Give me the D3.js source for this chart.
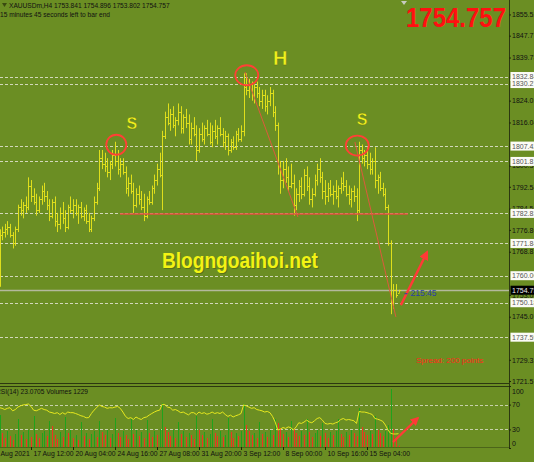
<!DOCTYPE html>
<html><head><meta charset="utf-8">
<script src="https://cdn.jsdelivr.net/npm/d3@7"></script>
<style>html,body{margin:0;padding:0;background:#6b8e23;overflow:hidden}svg{display:block}</style>
</head><body>
<svg id="c" width="534" height="462"></svg>
<script>
// ---------- DATA (XAUUSDm, H4) ----------
const opens = [1762,1775,1776,1777,1778,1775,1772,1777,1785,1784, 1786,1785,1793,1789,1787,1784,1788,1791,1789,1786,
 1782,1787,1780,1779,1783,1781,1778,1785,1784,1786, 1783,1785,1782,1784,1780,1777,1781,1787,1792,1803,
 1801,1800,1798,1801,1804,1802,1799,1801,1798,1792, 1794,1791,1786,1790,1788,1785,1782,1788,1787,1792,
 1795,1799,1797,1811,1818,1816,1819,1815,1817,1820, 1814,1818,1816,1810,1814,1812,1806,1812,1810,1814,
 1812,1809,1813,1811,1814,1812,1809,1811,1806,1809, 1807,1812,1810,1813,1829,1828,1830,1826,1829,1827,
 1824,1826,1822,1824,1827,1820,1815,1800,1795,1799, 1796,1793,1794,1786,1790,1793,1790,1797,1793,1788,
 1790,1795,1799,1796,1791,1789,1792,1790,1791,1789, 1792,1794,1793,1790,1788,1791,1789,1784,1806,1803,
 1804,1801,1799,1802,1795,1796,1792,1790,1785,1772, 1750,1755,1753.841];
const highs = [1777,1778,1779,1780,1779,1776,1778,1786,1788,1787, 1789,1796,1795,1792,1790,1789,1793,1794,1791,1788,
 1788,1789,1783,1785,1787,1784,1786,1789,1788,1788, 1786,1787,1785,1786,1783,1782,1789,1794,1806,1806,
 1805,1803,1802,1806,1809,1806,1803,1803,1800,1796, 1797,1794,1792,1793,1791,1790,1789,1791,1793,1797,
 1801,1805,1813,1820,1823,1821,1822,1818,1823,1822, 1819,1821,1819,1816,1818,1815,1814,1816,1815,1817,
 1816,1815,1817,1815,1818,1814,1813,1812,1810,1811, 1813,1814,1815,1834,1834,1832,1831,1830,1831,1829,
 1828,1828,1826,1829,1828,1822,1816,1802,1802,1803, 1800,1801,1797,1792,1795,1796,1799,1800,1796,1792,
 1797,1801,1803,1798,1795,1794,1795,1793,1795,1793, 1796,1798,1795,1793,1792,1793,1792,1809,1808,1806,
 1807,1805,1803,1807,1797,1798,1794,1792,1786,1773, 1757,1757,1754.896];
const lows = [1756,1773,1774,1775,1774,1770,1771,1776,1782,1781, 1783,1784,1787,1786,1782,1783,1786,1787,1784,1780,
 1781,1778,1776,1777,1779,1776,1777,1783,1781,1782, 1779,1781,1780,1779,1776,1776,1780,1786,1791,1799,
 1798,1796,1795,1799,1800,1797,1796,1797,1790,1789, 1790,1783,1785,1786,1784,1780,1781,1786,1786,1790,
 1793,1796,1784,1810,1815,1813,1814,1811,1815,1812, 1812,1814,1808,1808,1811,1802,1805,1809,1808,1811,
 1808,1807,1810,1808,1811,1807,1806,1804,1805,1806, 1806,1809,1809,1811,1826,1825,1824,1823,1825,1822,
 1821,1820,1819,1822,1818,1813,1797,1790,1792,1794, 1791,1792,1782,1784,1787,1788,1789,1791,1786,1785,
 1789,1793,1794,1788,1786,1787,1789,1786,1788,1785, 1790,1791,1789,1786,1785,1787,1780,1783,1801,1800,
 1799,1797,1797,1792,1790,1791,1789,1784,1771,1746, 1748,1752,1753.802];
const closes = [1775,1776,1777,1778,1775,1772,1777,1785,1784,1786, 1785,1793,1789,1787,1784,1788,1791,1789,1786,1782,
 1787,1780,1779,1783,1781,1778,1785,1784,1786,1783, 1785,1782,1784,1780,1777,1781,1787,1792,1803,1801,
 1800,1798,1801,1804,1802,1799,1801,1798,1792,1794, 1791,1786,1790,1788,1785,1782,1788,1787,1792,1795,
 1799,1797,1811,1818,1816,1819,1815,1817,1820,1814, 1818,1816,1810,1814,1812,1806,1812,1810,1814,1812,
 1809,1813,1811,1814,1812,1809,1811,1806,1809,1807, 1812,1810,1813,1829,1828,1830,1826,1829,1827,1824,
 1826,1822,1824,1827,1820,1815,1800,1795,1799,1796, 1793,1794,1786,1790,1793,1790,1797,1793,1788,1790,
 1795,1799,1796,1791,1789,1792,1790,1791,1789,1792, 1794,1793,1790,1788,1791,1789,1784,1806,1803,1804,
 1801,1799,1802,1795,1796,1792,1790,1785,1772,1750, 1755,1753,1754.757];
// tick volume, thousands
const volumes = [32,14,9,16,11,7,13,28,12,15, 8,17,10,31,13,9,14,16,11,26, 21,12,8,15,10,30,14,17,9,12,
 7,25,11,14,8,13,16,10,26,15, 12,17,9,13,29,14,10,16,12,8, 28,13,17,11,15,9,27,14,10,16,
 12,18,44,20,15,11,17,9,25,13, 16,10,14,12,8,31,17,12,15,9, 13,28,14,11,16,10,12,29,15,9,
 14,11,16,43,22,16,12,14,9,25, 13,15,10,17,12,28,24,19,13,15, 10,26,18,14,11,16,12,28,15,10,
 14,17,11,24,14,9,15,12,16,28, 13,10,15,12,17,14,11,39,20,15, 12,16,13,31,17,14,11,16,22,58,
 18,8,1.229];
const rsi = [65,64,62,64,65,60,62,66,68,69.5, 70,71,67,61,60,62,64,62,61,58, 57,55.6,57,54,57,54.5,58,57,57,55.6,
 54,52,51,48.7,49,55.6,61,65,69.5,67, 66,64,65,64.7,66,67,64,58,51,47.6, 49,46,50,47.6,46,49,50,53,55.6,58,
 60,61,70.5,70,66,65,61,62,60,57, 58,55.6,53.5,57,57,54,58,55.6,57,54.5, 55.6,58,55.6,57,55.6,58,54,51,53,50,
 52,53.5,55.6,69.5,68,66,64,65,62,61, 60,58,59,57,51,42,29,30.5,33,31.6, 34,32.7,29,34,40.7,39.6,41.8,45,42,40.7,
 44,47.6,49,45,39.6,38.6,39.6,38.6,40.7,42, 46,47.6,45,46,45,44,39.6,59,58,58, 57,55.6,54,47.6,46.5,45,43,37,29,23.6,
 22.6,22.6,23.07];
const dateLabels = ["13 Aug 2021","17 Aug 12:00","20 Aug 04:00","24 Aug 16:00","27 Aug 08:00","31 Aug 20:00","3 Sep 12:00","8 Sep 00:00","10 Sep 16:00","15 Sep 04:00"];
const dateLabelBars = [-4,12,28,44,60,76,92,108,124,140];
const priceTicks = [1855.52,1847.77,1839.78,1824.03,1816.04,1800.30,1792.54,1784.56,1776.80,1768.81,1753.06,1745.07,1729.33,1721.57];
const levelLines = [1832.84,1830.27,1807.42,1801.81,1782.83,1771.84,1760.06,1750.18,1737.59];
const currentPrice = 1754.757;
const rsiTicks = [100,70,30,0];
const rsiLevels = [70,30];
// annotations in (bar index, price) units
const peakCircles = [{i:44.5,p:1807.9,rx:10},{i:94.2,p:1833.3,rx:11.5},{i:136.3,p:1807.6,rx:11.5}];
const patternLabels = [{t:"S",i:50.4,p:1813.8,s:16},{t:"H",i:106.9,p:1837.1,s:20},{t:"S",i:138.1,p:1815.3,s:16}];
const neckline = [{i:45.9,p:1782.6},{i:155.6,p:1782.6}];
const trendLines = [[{i:93.5,p:1834.5},{i:113.7,p:1781.5}],[{i:135.4,p:1808.9},{i:151.0,p:1745.0}]];
const arrowMain = [{i:152.9,p:1749.3},{i:162.9,p:1768.7}];
const arrowRsi = [{i:149.9,v:9.5},{i:159.4,v:48.5}];

// ---------- SCALES ----------
const W=534, H=462, AX=509, MAINB=383, IND_T=386, IND_B=448;
const x = d3.scaleLinear().domain([0,1]).range([-0.5,2.125]);
const y = d3.scaleLinear().domain([1720.85,1860.8]).range([MAINB,0]);
const ry = d3.scaleLinear().domain([0,100]).range([IND_B,IND_T]);
const vy = d3.scaleLinear().domain([0,60]).range([447,387]);

const svg = d3.select("#c");
const FONT = "'Liberation Sans', Arial, sans-serif";
svg.append("rect").attr("width",W).attr("height",H).attr("fill","#6b8e23");
const defs = svg.append("defs");
defs.append("clipPath").attr("id","mainClip").append("rect").attr("x",0).attr("y",0).attr("width",AX).attr("height",MAINB);
defs.append("clipPath").attr("id","indClip").append("rect").attr("x",0).attr("y",IND_T+1).attr("width",AX).attr("height",IND_B-IND_T-1);
defs.append("marker").attr("id","ah").attr("viewBox","0 0 10 10").attr("refX",8).attr("refY",5)
  .attr("markerWidth",4).attr("markerHeight",4).attr("orient","auto")
  .append("path").attr("d","M0,0L10,5L0,10z").attr("fill","#ff3a36");

const main = svg.append("g").attr("clip-path","url(#mainClip)");
// level lines
main.selectAll("line.lv").data(levelLines).join("line").attr("class","lv")
  .attr("x1",0).attr("x2",AX).attr("y1",d=>Math.round(y(d))+0.5).attr("y2",d=>Math.round(y(d))+0.5)
  .attr("stroke","#e4e6d4").attr("stroke-width",1).attr("stroke-dasharray","3,2").attr("opacity",0.85);
main.append("line").attr("x1",0).attr("x2",AX).attr("y1",Math.round(y(currentPrice))+0.5).attr("y2",Math.round(y(currentPrice))+0.5)
  .attr("stroke","#b4b99c").attr("stroke-width",1.3);

// OHLC bars
const bars = d3.range(opens.length).map(i=>({i,o:opens[i],h:highs[i],l:lows[i],c:closes[i]}));
const gb = main.append("g").attr("stroke","#e9e51c").attr("stroke-width",1).attr("opacity",0.92);
const bx = d=>Math.round(x(d.i))+0.5;
gb.selectAll("line.hl").data(bars).join("line").attr("x1",bx).attr("x2",bx).attr("y1",d=>y(d.h)).attr("y2",d=>y(d.l));
gb.selectAll("line.op").data(bars).join("line").attr("x1",d=>bx(d)-1.5).attr("x2",bx).attr("y1",d=>Math.round(y(d.o))+0.5).attr("y2",d=>Math.round(y(d.o))+0.5);
gb.selectAll("line.cl").data(bars).join("line").attr("x1",bx).attr("x2",d=>bx(d)+1.5).attr("y1",d=>Math.round(y(d.c))+0.5).attr("y2",d=>Math.round(y(d.c))+0.5);

// annotations
main.append("line").attr("x1",x(neckline[0].i)).attr("x2",x(neckline[1].i)).attr("y1",y(neckline[0].p)).attr("y2",y(neckline[1].p))
  .attr("stroke","#e2503e").attr("stroke-width",1.4);
trendLines.forEach(t=>main.append("line").attr("x1",x(t[0].i)).attr("y1",y(t[0].p)).attr("x2",x(t[1].i)).attr("y2",y(t[1].p))
  .attr("stroke","#dd5a3c").attr("stroke-width",1));
main.selectAll("ellipse").data(peakCircles).join("ellipse").attr("cx",d=>x(d.i)).attr("cy",d=>y(d.p)).attr("rx",d=>d.rx).attr("ry",10)
  .attr("fill","none").attr("stroke","#ff4035").attr("stroke-width",1.8);
main.append("line").attr("x1",x(arrowMain[0].i)).attr("y1",y(arrowMain[0].p)).attr("x2",x(arrowMain[1].i)).attr("y2",y(arrowMain[1].p))
  .attr("stroke","#ff3a36").attr("stroke-width",2.4).attr("marker-end","url(#ah)");
main.selectAll("text.pl").data(patternLabels).join("text").attr("class","pl")
  .attr("x",d=>x(d.i)).attr("y",d=>y(d.p)).attr("text-anchor","middle")
  .attr("font-family",FONT).attr("font-weight","bold").attr("font-size",d=>d.s)
  .attr("fill","#f0f21c").attr("stroke","#5d6e1a").attr("stroke-width",0.4).text(d=>d.t);
main.append("text").attr("x",x(61.9)+1).attr("y",y(1762.9)+1).attr("font-family",FONT).attr("font-weight","bold").attr("font-size",22)
  .attr("textLength",156).attr("lengthAdjust","spacingAndGlyphs").attr("fill","#4f5e12").attr("opacity",0.6).text("Blogngoaihoi.net");
main.append("text").attr("x",x(61.9)).attr("y",y(1762.9)).attr("font-family",FONT).attr("font-weight","bold").attr("font-size",22)
  .attr("textLength",156).attr("lengthAdjust","spacingAndGlyphs").attr("fill","#f3f314").text("Blogngoaihoi.net");
main.append("line").attr("x1",x(152)+6).attr("x2",x(152)+9).attr("y1",y(currentPrice)+3.5).attr("y2",y(currentPrice)+3.5).attr("stroke","#2a40a8");
main.append("text").attr("x",x(152)+12).attr("y",y(currentPrice)+6).attr("font-family",FONT).attr("font-size",8.5)
  .attr("fill","#2a40a8").text("215:45");
main.append("text").attr("x",416).attr("y",363).attr("font-family",FONT).attr("font-size",8).attr("fill","#ff2a1a").text("Spread: 200 points");
// header texts
main.append("path").attr("d","M2,3h5l-2.5,4z").attr("fill","#3a4a10");
main.append("text").attr("x",9).attr("y",8).attr("font-family",FONT).attr("font-size",6.6).attr("fill","#111")
  .text("XAUUSDm,H4  1753.841 1754.896 1753.802 1754.757");
main.append("text").attr("x",0).attr("y",17).attr("font-family",FONT).attr("font-size",6.6).attr("fill","#111")
  .text("15 minutes 45 seconds left to bar end");
main.append("path").attr("d","M401,1h6l-3,4z").attr("fill","#c8cbc0");
main.append("text").attr("x",506).attr("y",27).attr("text-anchor","end").attr("font-family",FONT).attr("font-weight","bold")
  .attr("font-size",27).attr("textLength",100).attr("lengthAdjust","spacingAndGlyphs").attr("fill","#ff1010").text(d3.format(".3f")(currentPrice));

// ---------- INDICATOR PANEL ----------
const ind = svg.append("g").attr("clip-path","url(#indClip)");
ind.selectAll("line.rl").data(rsiLevels).join("line").attr("x1",0).attr("x2",AX)
  .attr("y1",d=>Math.round(ry(d))+0.5).attr("y2",d=>Math.round(ry(d))+0.5)
  .attr("stroke","#dfe2cc").attr("stroke-dasharray","3,2").attr("opacity",0.8);
ind.selectAll("line.vol").data(volumes).join("line").attr("x1",(d,i)=>Math.round(x(i))+0.5).attr("x2",(d,i)=>Math.round(x(i))+0.5)
  .attr("y1",vy(0)).attr("y2",d=>vy(d))
  .attr("stroke",(d,i)=> i>0 && d<volumes[i-1] ? "#ee3420" : "#20a21c").attr("stroke-width",1);
ind.append("path").datum(rsi).attr("d",d3.line().x((d,i)=>x(i)).y(d=>ry(d)))
  .attr("fill","none").attr("stroke","#e6e81e").attr("stroke-width",1);
ind.append("line").attr("x1",x(arrowRsi[0].i)).attr("y1",ry(arrowRsi[0].v)).attr("x2",x(arrowRsi[1].i)).attr("y2",ry(arrowRsi[1].v))
  .attr("stroke","#ff3a36").attr("stroke-width",2.2).attr("marker-end","url(#ah)");
ind.append("text").attr("x",-4).attr("y",394).attr("font-family",FONT).attr("font-size",6.6).attr("fill","#111")
  .text("RSI(14) 23.0705  Volumes 1229");

// separators & borders
const frame = svg.append("g").attr("stroke","#2c3810");
frame.append("line").attr("x1",0).attr("x2",AX).attr("y1",MAINB+0.5).attr("y2",MAINB+0.5).attr("stroke-width",1.2);
frame.append("line").attr("x1",0).attr("x2",AX).attr("y1",IND_T+0.5).attr("y2",IND_T+0.5).attr("stroke-width",1.2);
frame.append("line").attr("x1",0).attr("x2",AX).attr("y1",IND_B-0.5).attr("y2",IND_B-0.5).attr("stroke-width",0.8).attr("opacity",0.6);
frame.append("line").attr("x1",AX+0.5).attr("x2",AX+0.5).attr("y1",0).attr("y2",IND_B).attr("stroke-width",1);

// ---------- AXES ----------
function styleAxis(g){ g.select(".domain").remove(); g.selectAll("line").attr("stroke","#1d2608");
  g.selectAll("text").attr("fill","#111").attr("font-family",FONT).attr("font-size",7); }
const pa = svg.append("g").attr("transform",`translate(${AX},0)`)
  .call(d3.axisRight(y).tickValues(priceTicks).tickSize(2).tickPadding(1).tickFormat(d3.format(".2f")));
styleAxis(pa);
// highlighted level labels
const hl = svg.append("g");
hl.selectAll("rect").data(levelLines).join("rect").attr("x",AX+1.5).attr("y",d=>y(d)-4.5).attr("width",30).attr("height",9).attr("fill","#fbfbf6");
hl.selectAll("text").data(levelLines).join("text").attr("x",AX+3).attr("y",d=>y(d)+2.6).attr("font-family",FONT).attr("font-size",7)
  .attr("fill","#555").text(d3.format(".2f"));
hl.append("rect").attr("x",AX+1.5).attr("y",y(currentPrice)-4.5).attr("width",30).attr("height",9).attr("fill","#000");
hl.append("text").attr("x",AX+3).attr("y",y(currentPrice)+2.6).attr("font-family",FONT).attr("font-size",7).attr("fill","#eee").text(d3.format(".3f")(currentPrice));

const ra = svg.append("g").attr("transform",`translate(${AX},0)`)
  .call(d3.axisRight(ry).tickValues(rsiTicks).tickSize(2).tickPadding(1));
styleAxis(ra);
ra.selectAll(".tick text").attr("dy",d=> d===100 ? "1.0em" : d===0 ? "-0.3em" : "0.32em");

const da = svg.append("g").attr("transform",`translate(0,${IND_B-1})`)
  .call(d3.axisBottom(x).tickValues(dateLabelBars).tickSize(3).tickFormat((d,i)=>dateLabels[i]));
styleAxis(da);
da.selectAll(".tick text").attr("text-anchor","start").attr("x",2).attr("y",4).attr("font-size",6.8);
</script>
</body></html>
